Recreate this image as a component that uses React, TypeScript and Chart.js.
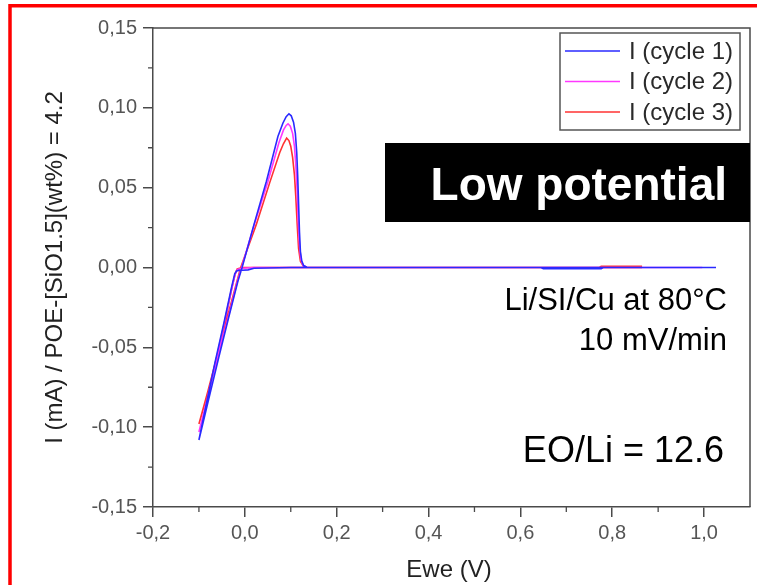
import React, { useEffect, useRef } from "react";
import { Chart, registerables } from "chart.js";

Chart.register(...registerables);

const seriesLabels = ["I (cycle 1)", "I (cycle 2)", "I (cycle 3)"];
const seriesColors = ["#2a2aff", "#ff38ff", "#ff3232"];

// cycle 1 (starts at upper vertex, sweeps down, back up)
const cycle1X = [1.026, 0.78, 0.776, 0.65, 0.645, 0.4, 0.2, 0.1, 0.02, 0.007, -0.005, -0.013, -0.018, -0.022, -0.029, -0.045, -0.065, -0.085, -0.1,
  -0.08, -0.057, -0.035, -0.015, -0.006, 0.02, 0.047, 0.072, 0.083, 0.09, 0.096, 0.101, 0.106, 0.11, 0.113, 0.115, 0.117, 0.119, 0.121, 0.124, 0.128, 0.135, 0.2, 0.6, 1.0];
const cycle1Y = [0, 0, -0.0008, -0.0008, 0, 0, 0, 0, -0.0005, -0.0015, -0.0017, -0.0018, -0.0022, -0.004, -0.0125, -0.034, -0.0595, -0.087, -0.108,
  -0.084, -0.0565, -0.031, -0.0085, 0, 0.027, 0.054, 0.082, 0.0905, 0.0945, 0.0963, 0.095, 0.091, 0.084, 0.072, 0.058, 0.04, 0.022, 0.01, 0.004, 0.0012, 0.0002, 0, 0, 0];

// cycle 2
const cycle2X = [0.996, 0.8, 0.648, 0.613, 0.4, 0.2, 0.1, 0.02, -0.005, -0.013, -0.017, -0.021, -0.028, -0.045, -0.065, -0.085, -0.1,
  -0.08, -0.058, -0.036, -0.016, -0.007, 0.02, 0.05, 0.074, 0.084, 0.09, 0.094, 0.099, 0.104, 0.108, 0.111, 0.114, 0.116, 0.119, 0.122, 0.127, 0.135, 0.2, 0.6, 0.996];
const cycle2Y = [0, 0, 0, 0, 0, 0, 0, 0, -0.0005, -0.001, -0.0015, -0.004, -0.0125, -0.035, -0.061, -0.086, -0.103,
  -0.08, -0.055, -0.031, -0.0085, 0, 0.0265, 0.0535, 0.078, 0.086, 0.089, 0.09, 0.0885, 0.084, 0.076, 0.064, 0.048, 0.03, 0.014, 0.005, 0.0012, 0.0002, 0, 0, 0];

// cycle 3
const cycle3X = [0.865, 0.863, 0.776, 0.772, 0.6, 0.4, 0.2, 0.1, 0.02, -0.005, -0.012, -0.017, -0.021, -0.028, -0.045, -0.065, -0.085, -0.1,
  -0.08, -0.06, -0.038, -0.018, -0.009, 0.025, 0.054, 0.076, 0.084, 0.091, 0.096, 0.1, 0.104, 0.108, 0.111, 0.114, 0.117, 0.121, 0.127, 0.135, 0.2, 0.6, 0.865];
const cycle3Y = [0.0008, 0.0008, 0.0008, 0, 0, 0, 0, 0, 0, 0, -0.0005, -0.001, -0.004, -0.0125, -0.036, -0.062, -0.083, -0.098,
  -0.077, -0.055, -0.031, -0.0095, 0, 0.027, 0.053, 0.072, 0.0775, 0.081, 0.0795, 0.076, 0.069, 0.058, 0.044, 0.027, 0.012, 0.004, 0.001, 0.0002, 0, 0, 0];

const xTickValues = [-0.2, 0, 0.2, 0.4, 0.6, 0.8, 1.0];
const yTickValues = [-0.15, -0.1, -0.05, 0, 0.05, 0.1, 0.15];
const xMinorTicks = [-0.1, 0.1, 0.3, 0.5, 0.7, 0.9];
const yMinorTicks = [-0.125, -0.075, -0.025, 0.025, 0.075, 0.125];

const xAxisTitle = "Ewe (V)";
const yAxisTitle = "I (mA) / POE-[SiO1.5](wt%) = 4.2";
const boxLabel = "Low potential";
const noteLines = ["Li/SI/Cu at 80°C", "10 mV/min"];
const ratioLabel = "EO/Li = 12.6";

const FONT = "Arial, 'Liberation Sans', sans-serif";
const AXIS_COLOR = "#4a4a4a";

function zip(xs: number[], ys: number[]) {
  return xs.map((x, i) => ({ x, y: ys[i] }));
}

const extrasPlugin = {
  id: "extras",
  afterDraw(chart: any) {
    const ctx = chart.ctx;
    const area = chart.chartArea;
    const xs = chart.scales.x;
    const ys = chart.scales.y;
    ctx.save();
    // frame (top / right)
    ctx.strokeStyle = AXIS_COLOR;
    ctx.lineWidth = 1.5;
    ctx.beginPath();
    ctx.moveTo(area.left, area.top);
    ctx.lineTo(area.right, area.top);
    ctx.lineTo(area.right, area.bottom);
    ctx.stroke();
    // minor ticks
    ctx.lineWidth = 1.3;
    ctx.beginPath();
    xMinorTicks.forEach((v) => {
      const px = xs.getPixelForValue(v);
      ctx.moveTo(px, area.bottom);
      ctx.lineTo(px, area.bottom + 5);
    });
    yMinorTicks.forEach((v) => {
      const py = ys.getPixelForValue(v);
      ctx.moveTo(area.left, py);
      ctx.lineTo(area.left - 5, py);
    });
    ctx.stroke();

    // axis titles
    ctx.fillStyle = "#222";
    ctx.font = `24px ${FONT}`;
    ctx.textAlign = "center";
    ctx.textBaseline = "middle";
    ctx.fillText(xAxisTitle, 449, 570);
    ctx.save();
    ctx.translate(55, (area.top + area.bottom) / 2);
    ctx.rotate(-Math.PI / 2);
    ctx.fillText(yAxisTitle, 0, 0);
    ctx.restore();

    // legend
    const lx = 560, ly = 33, lw = 180, lh = 97;
    ctx.fillStyle = "#fff";
    ctx.fillRect(lx, ly, lw, lh);
    ctx.strokeStyle = "#555";
    ctx.lineWidth = 1.5;
    ctx.strokeRect(lx, ly, lw, lh);
    ctx.font = `24px ${FONT}`;
    ctx.textAlign = "left";
    ctx.textBaseline = "middle";
    seriesLabels.forEach((label, i) => {
      const ry = 51 + i * 30.5;
      ctx.strokeStyle = seriesColors[i];
      ctx.lineWidth = 1.5;
      ctx.beginPath();
      ctx.moveTo(565, ry);
      ctx.lineTo(620, ry);
      ctx.stroke();
      ctx.fillStyle = "#2a2a2a";
      ctx.fillText(label, 629, ry + 1);
    });

    // black box
    ctx.fillStyle = "#000";
    ctx.fillRect(385, 143, 365, 79);
    ctx.fillStyle = "#fff";
    ctx.font = `bold 46px ${FONT}`;
    ctx.textAlign = "right";
    ctx.textBaseline = "alphabetic";
    ctx.fillText(boxLabel, 727, 200);

    // notes
    ctx.fillStyle = "#000";
    ctx.font = `31px ${FONT}`;
    ctx.fillText(noteLines[0], 727, 310);
    ctx.fillText(noteLines[1], 727, 350);
    ctx.font = `36px ${FONT}`;
    ctx.fillText(ratioLabel, 724, 462);

    // red slide frame
    ctx.strokeStyle = "#ff0000";
    ctx.lineWidth = 3.5;
    ctx.beginPath();
    ctx.moveTo(10, 585);
    ctx.lineTo(10, 5.7);
    ctx.lineTo(757, 5.7);
    ctx.stroke();
    ctx.restore();
  },
};

export default function App() {
  const ref = useRef<HTMLCanvasElement | null>(null);
  useEffect(() => {
    document.body.style.margin = "0";
    const canvas = ref.current;
    if (!canvas) return;
    const datasets = [
      zip(cycle1X, cycle1Y),
      zip(cycle2X, cycle2Y),
      zip(cycle3X, cycle3Y),
    ].map((data, i) => ({
      label: seriesLabels[i],
      data,
      showLine: true,
      borderColor: seriesColors[i],
      backgroundColor: seriesColors[i],
      borderWidth: 1.6,
      pointRadius: 0,
      tension: 0,
    }));
    const chart = new Chart(canvas, {
      type: "scatter",
      data: { datasets },
      options: {
        responsive: false,
        animation: false,
        layout: { padding: { top: 28, right: 7, left: 0, bottom: 0 } },
        plugins: { legend: { display: false }, tooltip: { enabled: false } },
        scales: {
          x: {
            type: "linear",
            min: -0.2,
            max: 1.1,
            afterBuildTicks: (s: any) => {
              s.ticks = xTickValues.map((v) => ({ value: v }));
            },
            afterFit: (s: any) => {
              s.height = 78;
            },
            ticks: {
              color: "#555",
              font: { family: FONT, size: 20 },
              padding: 4,
              maxRotation: 0,
              callback: (v: any) => Number(v).toFixed(1).replace(".", ","),
            },
            grid: { drawOnChartArea: false, drawTicks: true, tickLength: 10, color: AXIS_COLOR, lineWidth: 1.5 },
            border: { color: AXIS_COLOR, width: 1.5 },
          },
          y: {
            type: "linear",
            min: -0.15,
            max: 0.15,
            afterBuildTicks: (s: any) => {
              s.ticks = yTickValues.map((v) => ({ value: v }));
            },
            afterFit: (s: any) => {
              s.width = 153;
            },
            ticks: {
              color: "#555",
              font: { family: FONT, size: 20 },
              padding: 6,
              callback: (v: any) => Number(v).toFixed(2).replace(".", ","),
            },
            grid: { drawOnChartArea: false, drawTicks: true, tickLength: 10, color: AXIS_COLOR, lineWidth: 1.5 },
            border: { color: AXIS_COLOR, width: 1.5 },
          },
        },
      },
      plugins: [extrasPlugin],
    });
    return () => chart.destroy();
  }, []);
  return (
    <div style={{ position: "absolute", left: 0, top: 0, width: 757, height: 585, background: "#fff" }}>
      <canvas ref={ref} width={757} height={585} style={{ display: "block" }} />
    </div>
  );
}
